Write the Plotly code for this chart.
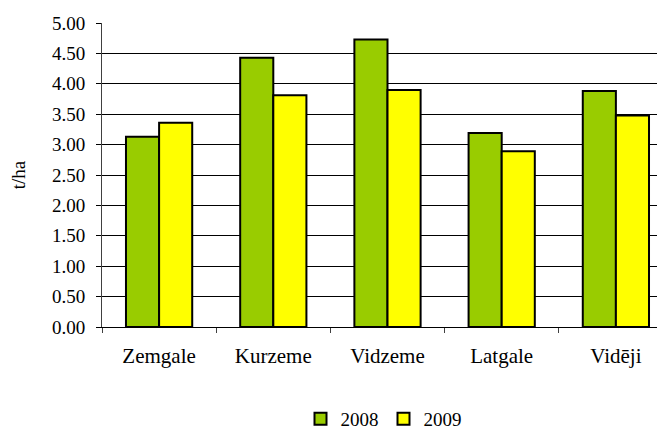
import plotly.graph_objects as go

regions = ["Zemgale", "Kurzeme", "Vidzeme", "Latgale", "Vidēji"]
y2008 = [3.13, 4.43, 4.73, 3.19, 3.88]
y2009 = [3.36, 3.81, 3.90, 2.89, 3.48]

fig = go.Figure()
fig.add_trace(go.Bar(x=regions, y=y2008, name="2008",
                     marker=dict(color="#99CC00", line=dict(color="#000000", width=2))))
fig.add_trace(go.Bar(x=regions, y=y2009, name="2009",
                     marker=dict(color="#FFFF00", line=dict(color="#000000", width=2))))

font = "Times New Roman"
fig.update_layout(
    width=657, height=423,
    margin=dict(l=94, r=0, t=15, b=104, autoexpand=False),
    paper_bgcolor="white", plot_bgcolor="white",
    barmode="group", bargap=0.42, bargroupgap=0,
    font=dict(family=font, color="#000000"),
    showlegend=True,
    legend=dict(orientation="h", x=0.5, xanchor="center", y=-0.302, yanchor="middle",
                font=dict(family=font, size=19), itemwidth=30, traceorder="normal",
                borderwidth=0),
)
fig.update_xaxes(
    type="category", range=[-0.5, 4.43], automargin=False,
    showline=True, linecolor="#000000", linewidth=1,
    ticks="outside", tickson="boundaries", ticklen=5, tickcolor="#404040",
    tickfont=dict(family=font, size=21), ticklabelstandoff=10, showgrid=False,
)
fig.update_yaxes(
    range=[0, 5], dtick=0.5, tickformat=".2f", automargin=False,
    showline=True, linecolor="#404040", linewidth=1,
    ticks="outside", ticklen=5, tickcolor="#000000",
    showgrid=True, gridcolor="#000000", gridwidth=1, zeroline=False,
    tickfont=dict(family=font, size=19), ticklabelstandoff=7,
    title=dict(text="t/ha", font=dict(family=font, size=19), standoff=27),
)
fig.write_html("out.html")
